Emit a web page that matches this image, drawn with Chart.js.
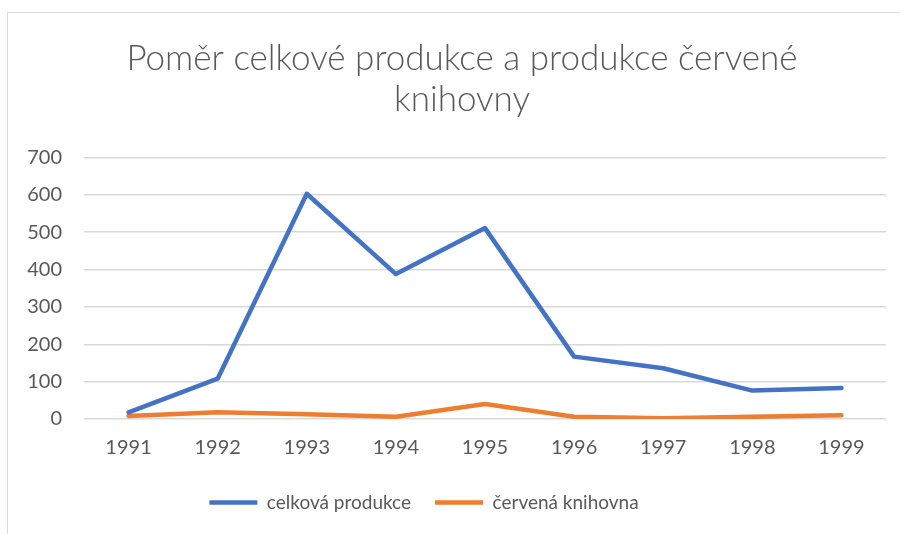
<!DOCTYPE html>
<html>
<head>
<meta charset="utf-8">
<title>Poměr celkové produkce</title>
<script src="https://cdn.jsdelivr.net/npm/chart.js"></script>
<style>
  html, body { margin:0; padding:0; background:#fff; overflow:hidden; }
  .wrap { position:relative; width:900px; height:534px; }
  .frame { position:absolute; left:7px; top:12px; width:900px; height:540px; border:1px solid #d9d9d9; box-sizing:border-box; }
  canvas { position:absolute; left:0; top:0; }
</style>
</head>
<body>
<div class="wrap">
  <div class="frame"></div>
  <canvas id="chart" width="900" height="534"></canvas>
</div>
<script>
const years = ["1991", "1992", "1993", "1994", "1995", "1996", "1997", "1998", "1999"];
const celkova = [18, 108, 603, 388, 511, 167, 136, 76, 83];
const cervena = [8, 18, 13, 6, 40, 6, 2, 6, 10];
const titleLines = ["Poměr celkové produkce a produkce červené", "knihovny"];

const font = "Lato, 'Liberation Sans', sans-serif";
const grey = "#595959";

// title sits a bit right of canvas centre, legend a bit left (like the original)
const nudge = {
  id: "nudge",
  afterLayout(chart) {
    if (chart.titleBlock) { chart.titleBlock.left += 19; chart.titleBlock.right += 19; }
    if (chart.legend) { chart.legend.left -= 19; chart.legend.right -= 19; }
  }
};

new Chart(document.getElementById("chart"), {
  type: "line",
  data: {
    labels: years,
    datasets: [
      {
        label: "celková produkce",
        data: celkova,
        borderColor: "#4472C4",
        backgroundColor: "#4472C4",
        borderWidth: 4.5,
        borderCapStyle: "round",
        borderJoinStyle: "round",
        pointRadius: 0,
        pointStyle: "line",
        tension: 0
      },
      {
        label: "červená knihovna",
        data: cervena,
        borderColor: "#ED7D31",
        backgroundColor: "#ED7D31",
        borderWidth: 4.5,
        borderCapStyle: "round",
        borderJoinStyle: "round",
        pointRadius: 0,
        pointStyle: "line",
        tension: 0
      }
    ]
  },
  options: {
    responsive: false,
    animation: false,
    layout: { padding: { left: 0, right: 14, top: 22, bottom: 12 } },
    plugins: {
      tooltip: { enabled: false },
      title: {
        display: true,
        text: titleLines,
        color: grey,
        font: { family: font, size: 35, weight: 300, lineHeight: 1.15 },
        padding: { top: 17, bottom: 38 }
      },
      legend: {
        position: "bottom",
        labels: {
          usePointStyle: true,
          pointStyleWidth: 48,
          color: grey,
          font: { family: font, size: 19 },
          padding: 24
        }
      }
    },
    scales: {
      x: {
        offset: true,
        grid: { display: false },
        border: { display: false },
        ticks: { color: grey, font: { family: font, size: 20 }, padding: 9, maxRotation: 0 }
      },
      y: {
        min: 0,
        max: 700,
        afterFit: (s) => { s.width = 84; },
        grid: { color: "#d9d9d9", lineWidth: 1.5, drawTicks: false },
        border: { display: false },
        ticks: { stepSize: 100, color: grey, font: { family: font, size: 20 }, padding: 22 }
      }
    }
  },
  plugins: [nudge]
});
</script>
</body>
</html>
